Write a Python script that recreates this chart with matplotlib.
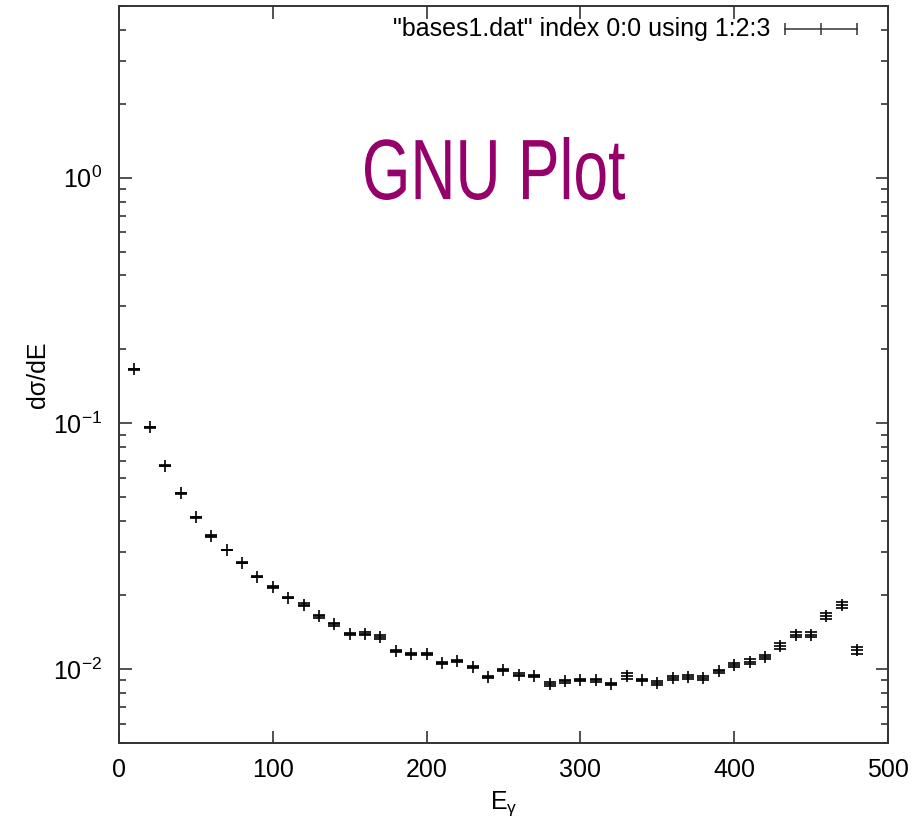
import matplotlib
matplotlib.use('Agg')
import matplotlib.pyplot as plt
from matplotlib.ticker import LogLocator, FixedLocator, NullLocator
from matplotlib.textpath import TextPath
from matplotlib.patches import PathPatch
from matplotlib.font_manager import FontProperties
from matplotlib.transforms import Affine2D, IdentityTransform

plt.rcParams['font.family'] = ['Liberation Sans', 'DejaVu Sans']
plt.rcParams['mathtext.default'] = 'regular'
plt.rcParams['axes.unicode_minus'] = False

# photon energy bins
energy = [10, 20, 30, 40, 50, 60, 70, 80, 90, 100,
          110, 120, 130, 140, 150, 160, 170, 180, 190, 200,
          210, 220, 230, 240, 250, 260, 270, 280, 290, 300,
          310, 320, 330, 340, 350, 360, 370, 380, 390, 400,
          410, 420, 430, 440, 450, 460, 470, 480]

# d sigma / dE
dsigma = [0.166, 0.0963, 0.0671, 0.0519, 0.0414, 0.0348, 0.0305, 0.0271, 0.0238, 0.0216,
          0.0195, 0.0183, 0.0164, 0.0152, 0.0139, 0.0139, 0.0135, 0.0118, 0.0115, 0.0115,
          0.0106, 0.0108, 0.0102, 0.0093, 0.0099, 0.0095, 0.0094, 0.0087, 0.0089, 0.0090,
          0.0090, 0.0087, 0.0094, 0.0090, 0.0088, 0.0092, 0.0093, 0.0092, 0.0098, 0.0104,
          0.0107, 0.0112, 0.0124, 0.0138, 0.0138, 0.0165, 0.0183, 0.0119]

# errors
dsigma_err = [0.0010, 0.0006, 0.0003, 0.0002, 0.0003, 0.0002, 0.0001, 0.0002, 0.0002, 0.0002,
              0.0001, 0.0002, 0.0002, 0.0002, 0.0001, 0.0002, 0.0002, 0.0001, 0.0001, 0.0001,
              0.0001, 0.0001, 0.0001, 0.0001, 0.0001, 0.00015, 0.0001, 0.00015, 0.0001, 0.0001,
              0.00015, 0.0001, 0.00025, 0.0001, 0.00015, 0.00017, 0.00015, 0.00017, 0.00015, 0.0002,
              0.00025, 0.00025, 0.00035, 0.0003, 0.0003, 0.00045, 0.0005, 0.0004]

x_ticks = [0, 100, 200, 300, 400, 500]
legend_label = '"bases1.dat" index 0:0 using 1:2:3'

fig = plt.figure(figsize=(9.23, 8.26), dpi=100)
ax = fig.add_axes([0.129, 0.1005, 0.833, 0.8922])

ax.errorbar(energy, dsigma, yerr=dsigma_err, fmt='+', color='black',
            markersize=8.5, markeredgewidth=1.2, elinewidth=1.1,
            capsize=4, capthick=1.1)

ax.set_yscale('log')
ax.set_xlim(0, 500)
ax.set_ylim(0.005, 5)
ax.xaxis.set_major_locator(FixedLocator(x_ticks))
ax.xaxis.set_minor_locator(NullLocator())
ax.yaxis.set_major_locator(LogLocator(base=10))
ax.yaxis.set_minor_locator(LogLocator(base=10, subs=range(2, 10)))

for sp in ax.spines.values():
    sp.set_color('#333333')
    sp.set_linewidth(1.4)

ax.tick_params(which='both', direction='in', top=True, right=True,
               color='#333333', width=1.2, labelsize=18)
ax.tick_params(which='major', length=9)
ax.tick_params(which='minor', length=5)
ax.tick_params(axis='y', which='major', pad=12)
ax.tick_params(axis='x', which='major', pad=11)

ax.set_xlabel(r'E$_\gamma$', fontsize=18, labelpad=5)
ax.set_ylabel('dσ/dE', fontsize=18, labelpad=2)

# gnuplot style key: text + horizontal errorbar sample
ax.text(0.847, 0.969, legend_label, transform=ax.transAxes,
        ha='right', va='center', fontsize=18)
ax.plot([0.866, 0.960], [0.969, 0.969], color='#333333', lw=1.1,
        transform=ax.transAxes, clip_on=False)
ax.plot([0.866, 0.913, 0.960], [0.969, 0.969, 0.969], ls='none', marker='|',
        markersize=8, markeredgewidth=1.1, color='#333333',
        transform=ax.transAxes, clip_on=False)

# handwritten-looking "GNU Plot" note, squeezed into its box (pixels)
tp = TextPath((0, 0), 'GNU Plot', size=1, prop=FontProperties(family='Liberation Sans'))
bb = tp.get_extents()
box_x0, box_y0, box_w, box_h = 365, 626, 260, 63
tr = (Affine2D().translate(-bb.x0, -bb.y0)
      .scale(box_w / bb.width, box_h / bb.height)
      .translate(box_x0, box_y0))
fig.patches.append(PathPatch(tr.transform_path(tp), transform=IdentityTransform(),
                             facecolor='#96006a', edgecolor='none'))

fig.savefig('out.png', dpi=100)
